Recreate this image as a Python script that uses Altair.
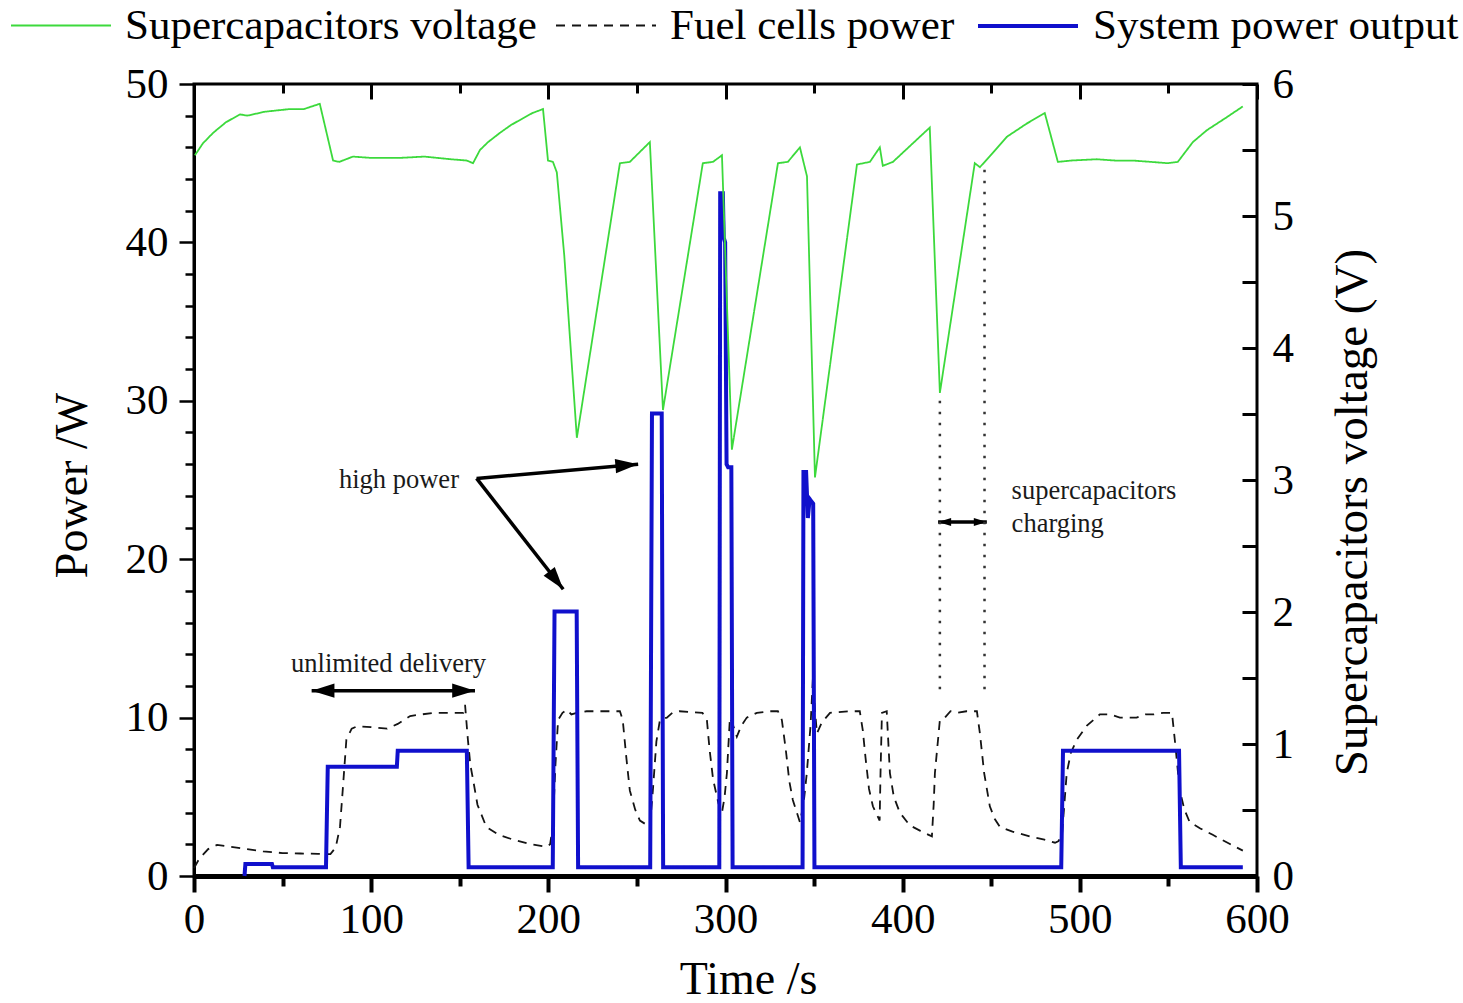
import math

import altair as alt
import pandas as pd

SERIF = "Liberation Serif"
W, H = 1063, 792
T_MAX, P_MAX, V_MAX = 600, 50, 6

# ---------------- measured series ----------------
# supercapacitor voltage (V) against time (s)
volt_t = [0.5, 5, 10.8, 18, 26, 30, 40, 54, 62, 71, 78.5, 82, 89.7, 100, 116, 130,
          145, 154, 157.5, 161.4, 166, 172.7, 179, 185.7, 191, 197, 199.8, 202.6,
          204.8, 209, 216.1, 240.4, 246, 257.3, 264.7, 287.2, 292.9, 298, 303.6, 329.6,
          335.2, 342, 346, 350.5, 374.2, 381.5, 387.1, 388.8, 394.5, 415.3, 421,
          440.7, 443.6, 451, 458.8, 470, 480.2, 487.6, 495, 509.5, 520, 530, 540,
          549.7, 555.3, 563.8, 571.7, 582, 592]
volt_v = [5.46, 5.55, 5.63, 5.71, 5.77, 5.76, 5.79, 5.81, 5.81, 5.85, 5.42, 5.41,
          5.45, 5.44, 5.44, 5.45, 5.43, 5.42, 5.40, 5.50, 5.56, 5.63, 5.69, 5.74,
          5.78, 5.81, 5.42, 5.41, 5.33, 4.70, 3.32, 5.40, 5.41, 5.56, 3.53, 5.40, 5.41,
          5.46, 3.23, 5.40, 5.41, 5.52, 5.30, 3.02, 5.39, 5.41, 5.52, 5.38, 5.41,
          5.67, 3.66, 5.40, 5.37, 5.48, 5.60, 5.70, 5.78, 5.41, 5.42, 5.43, 5.42,
          5.42, 5.41, 5.40, 5.41, 5.56, 5.65, 5.74, 5.83]

# fuel cell power (W) against time (s)
fc_t = [0, 3, 8, 13, 20, 30, 39, 50, 60, 70, 77, 80, 82.4, 84, 86, 89, 92, 100, 109,
        115, 122, 135, 152, 153, 154.6, 156, 157.5, 160, 165, 172, 180, 190, 199,
        201, 202.5, 204, 205.5, 208, 210.5, 213, 216, 221.6, 235, 240.4, 242, 244,
        246, 249, 251.7, 257.3, 259, 261, 263, 266.9, 270, 274, 287, 289.5, 291, 293,
        296, 298, 299.5, 300.8, 302.5, 304, 306.4, 309, 312, 317.7, 325, 329.6,
        331.8, 334, 336, 338, 342, 344, 345.9, 348, 349.3, 350.5, 351.6, 354.4, 359,
        370, 375.8, 377.5, 379, 381, 383.2, 387, 387.5, 388.3, 391, 392.8, 395,
        398.4, 404, 410, 416.5, 417.5, 418.2, 421, 423.8, 427, 430.6, 436, 441.9,
        443.6, 446, 449.2, 452, 454.9, 462, 471.8, 480, 486, 488, 490, 492.6, 495,
        498.3, 504, 511.3, 517, 522.6, 532, 537, 541.4, 547, 552, 553.6, 556.4, 559,
        562, 568, 575, 585, 592]
fc_p = [0.5, 1.1, 1.7, 1.96, 1.85, 1.7, 1.55, 1.45, 1.42, 1.4, 1.38, 1.8, 3.1, 5.5,
        8.6, 9.3, 9.45, 9.4, 9.3, 9.6, 10.1, 10.3, 10.3, 10.8, 8.6, 7.0, 6.1, 4.5,
        3.1, 2.6, 2.3, 2.0, 1.85, 2.0, 3.1, 7.0, 9.85, 10.3, 10.5, 10.2, 10.3, 10.4,
        10.4, 10.4, 9.85, 7.5, 5.4, 4.2, 3.5, 3.1, 5.4, 8.5, 9.85, 10.0, 10.3, 10.4,
        10.3, 9.85, 8.0, 6.1, 4.6, 4.0, 5.0, 6.5, 10.0, 9.6, 8.8, 9.5, 10.0, 10.3,
        10.4, 10.4, 9.85, 8.0, 6.0, 4.8, 3.4, 4.5, 6.5, 9.5, 12.4, 10.5, 9.0, 9.7,
        10.3, 10.4, 10.4, 9.2, 7.5, 5.5, 4.4, 3.5, 6.5, 10.3, 10.4, 6.5, 5.0, 4.0,
        3.2, 2.85, 2.5, 4.5, 6.5, 9.85, 10.0, 10.4, 10.3, 10.4, 10.4, 9.0, 6.5, 4.4,
        3.6, 3.1, 2.8, 2.5, 2.3, 2.1, 2.2, 2.7, 6.5, 7.8, 8.6, 9.5, 10.2, 10.2, 10.0,
        10.0, 10.2, 10.2, 10.3, 10.3, 8.6, 5.4, 4.2, 3.4, 3.0, 2.6, 2.0, 1.6]

# system power output (W) against time (s)
sys_t = [28.5, 29, 44, 44.5, 74.5, 75.5, 114.5, 115, 154, 155, 202.5, 203.5, 216,
         216.8, 257.5, 258.5, 264, 264.8, 296.5, 297, 298.5, 299, 299.8, 300.6,
         301.5, 303.3, 304, 343.5, 344, 345.5, 346.5, 347.5, 349.5, 350.2, 489.5,
         490.5, 556, 557, 592]
sys_p = [0, 0.75, 0.75, 0.55, 0.55, 6.9, 6.9, 7.9, 7.9, 0.55, 0.55, 16.7, 16.7,
         0.55, 0.55, 29.2, 29.2, 0.55, 0.55, 43.1, 43.1, 40.3, 40.0, 26.0, 25.8,
         25.8, 0.55, 0.55, 25.5, 25.5, 22.6, 23.8, 23.5, 0.55, 0.55, 7.9, 7.9,
         0.55, 0.55]

SERIES = ["Supercapacitors voltage", "Fuel cells power", "System power output"]

# ---------------- annotations ----------------
note_mid_text = ["high power", "unlimited delivery"]
note_mid_t = [115.7, 109.8]
note_mid_p = [25.0, 13.4]

note_left_text = ["supercapacitors", "charging"]
note_left_t = [461.5, 461.5]
note_left_p = [24.3, 22.2]

arrow_group = ["high power", "high power", "unlimited delivery", "supercapacitors charging"]
arrow_t0 = [159.5, 159.5, 66.4, 420.0]
arrow_p0 = [25.1, 25.1, 11.7, 22.35]
arrow_t1 = [250.7, 208.4, 158.6, 447.5]
arrow_p1 = [26.0, 18.1, 11.7, 22.35]
arrow_both = [False, False, True, True]

# dotted markers of the charging interval (voltage axis)
charge_t = [421.0, 446.2]
charge_v_top = [3.60, 5.35]
charge_v_bottom = [1.38, 1.38]

# ---------------- styles ----------------
COLORS = ["#3cd93c", "#141414", "#1010cc"]
DASHES = [[1, 0], [9, 7], [1, 0]]
WIDTHS = [1.8, 1.8, 4]
HEAD_PATH = "M0,0L-2,-0.62L-2,0.62Z"
HEAD_SIZE = {"supercapacitors charging": 170}
HEAD_SIZE_DEFAULT = 520

# ---------------- tables ----------------
volt_df = pd.DataFrame({"t": volt_t, "v": volt_v, "series": SERIES[0]})
fc_df = pd.DataFrame({"t": fc_t, "p": fc_p, "series": SERIES[1]})
sys_df = pd.DataFrame({"t": sys_t, "p": sys_p, "series": SERIES[2]})

arrows = pd.DataFrame({"group": arrow_group, "t0": arrow_t0, "p0": arrow_p0,
                       "t1": arrow_t1, "p1": arrow_p1, "both": arrow_both})


def screen_angle(t0, p0, t1, p1):
    dx = (t1 - t0) * W / T_MAX
    dy = -(p1 - p0) * H / P_MAX
    return math.degrees(math.atan2(dy, dx)) % 360


heads = []
for r in arrows.itertuples():
    ang = screen_angle(r.t0, r.p0, r.t1, r.p1)
    size = HEAD_SIZE.get(r.group, HEAD_SIZE_DEFAULT)
    heads.append({"t": r.t1, "p": r.p1, "angle": ang, "size": size})
    if r.both:
        heads.append({"t": r.t0, "p": r.p0, "angle": (ang + 180) % 360, "size": size})
heads_df = pd.DataFrame(heads)

mid_df = pd.DataFrame({"text": note_mid_text, "t": note_mid_t, "p": note_mid_p})
left_df = pd.DataFrame({"text": note_left_text, "t": note_left_t, "p": note_left_p})
charge_df = pd.DataFrame({"t": charge_t, "v_top": charge_v_top, "v_bottom": charge_v_bottom})

# ---------------- scales, axes, legend ----------------
t_scale = alt.Scale(domain=[0, T_MAX], nice=False, zero=False)
p_scale = alt.Scale(domain=[0, P_MAX], nice=False)
v_scale = alt.Scale(domain=[0, V_MAX], nice=False)

bottom_axis = alt.Axis(
    orient="bottom", title="Time /s", values=list(range(0, 601, 50)),
    labelExpr="datum.value % 100 === 0 ? datum.label : ''",
    tickSize={"condition": {"test": "datum.value % 100 === 0", "value": 16}, "value": 10},
    tickWidth=4, domainWidth=5, labelPadding=6, labelOverlap=False, labelFlush=False,
    titleX=554, titleY=117, titleAlign="center", titleBaseline="alphabetic", titleAngle=0,
)
top_ticks = alt.Axis(
    orient="bottom", offset=-H, values=list(range(0, 601, 50)), labels=False,
    title=None, domain=False,
    tickSize={"condition": {"test": "datum.value % 100 === 0", "value": 15}, "value": 9},
    tickWidth=3,
)
left_axis = alt.Axis(
    orient="left", title="Power /W", values=list(range(0, 51, 2)),
    labelExpr="datum.value % 10 === 0 ? datum.label : ''",
    tickSize={"condition": {"test": "datum.value % 10 === 0", "value": 15}, "value": 9},
    tickWidth=2.5, domainWidth=3, labelPadding=11, labelOverlap=False, labelFlush=False,
    titleX=-108, titleY=401, titleAngle=270, titleAlign="center", titleBaseline="alphabetic",
)
right_axis = alt.Axis(
    orient="right", title="Supercapacitors voltage (V)", values=list(range(0, 7)),
    ticks=False, tickSize=0, domain=False, labelPadding=15, labelOverlap=False,
    labelFlush=False, titleX=109, titleY=428, titleAngle=270, titleAlign="center",
    titleBaseline="alphabetic", titleFontSize=47,
)
right_ticks = alt.Axis(
    orient="left", offset=-W, values=[i / 2 for i in range(13)], labels=False,
    title=None, domain=False, tickSize=15, tickWidth=3,
)

legend = alt.Legend(
    title=None, orient="none", legendX=-184, legendY=-110, direction="horizontal",
    symbolType="stroke", symbolSize=10000, labelFont=SERIF, labelFontSize=43,
    labelColor="black", labelOffset=13, columnPadding=15, labelLimit=900, padding=0,
)
color_enc = alt.Color("series:N", scale=alt.Scale(domain=SERIES, range=COLORS), legend=legend)
dash_enc = alt.StrokeDash("series:N", scale=alt.Scale(domain=SERIES, range=DASHES), legend=legend)
width_enc = alt.StrokeWidth("series:N", scale=alt.Scale(type="ordinal", domain=SERIES, range=WIDTHS),
                            legend=legend)


def x_enc(axis, field="t"):
    return alt.X(f"{field}:Q", scale=t_scale, axis=axis)


# ---------------- power layers ----------------
fuel = alt.Chart(fc_df).mark_line().encode(
    x=x_enc(bottom_axis),
    y=alt.Y("p:Q", scale=p_scale, axis=left_axis),
    color=color_enc, strokeDash=dash_enc, strokeWidth=width_enc,
)
system = alt.Chart(sys_df).mark_line(strokeJoin="miter").encode(
    x=x_enc(top_ticks),
    y=alt.Y("p:Q", scale=p_scale, axis=None),
    color=color_enc, strokeDash=dash_enc, strokeWidth=width_enc,
)
notes_mid = alt.Chart(mid_df).mark_text(
    font=SERIF, fontSize=26.5, color="#1a1a1a", align="center", baseline="middle"
).encode(x=x_enc(None), y=alt.Y("p:Q", scale=p_scale, axis=None), text="text:N")
notes_left = alt.Chart(left_df).mark_text(
    font=SERIF, fontSize=26.5, color="#1a1a1a", align="left", baseline="middle"
).encode(x=x_enc(None), y=alt.Y("p:Q", scale=p_scale, axis=None), text="text:N")
shafts = alt.Chart(arrows).mark_rule(color="black", strokeWidth=3.5, strokeCap="butt").encode(
    x=x_enc(None, "t0"), x2="t1:Q",
    y=alt.Y("p0:Q", scale=p_scale, axis=None), y2="p1:Q",
)
arrowheads = alt.Chart(heads_df).mark_point(
    shape=HEAD_PATH, filled=True, color="black", opacity=1, strokeWidth=0
).encode(
    x=x_enc(None), y=alt.Y("p:Q", scale=p_scale, axis=None),
    angle=alt.Angle("angle:Q", scale=None),
    size=alt.Size("size:Q", scale=None, legend=None),
)

power_group = alt.layer(fuel, system, shafts, arrowheads, notes_mid, notes_left).resolve_axis(
    x="independent", y="independent"
)

# ---------------- voltage layers ----------------
charge_marks = alt.Chart(charge_df).mark_rule(
    color="#333333", strokeWidth=2.5, strokeDash=[2.5, 8.5]
).encode(
    x=x_enc(None),
    y=alt.Y("v_top:Q", scale=v_scale, axis=right_ticks), y2="v_bottom:Q",
)
voltage = alt.Chart(volt_df).mark_line().encode(
    x=x_enc(None),
    y=alt.Y("v:Q", scale=v_scale, axis=right_axis),
    color=color_enc, strokeDash=dash_enc, strokeWidth=width_enc,
)
volt_group = alt.layer(charge_marks, voltage).resolve_axis(y="independent")

chart = (
    alt.layer(power_group, volt_group)
    .resolve_scale(y="independent")
    .resolve_axis(x="independent")
    .properties(
        width=W, height=H,
        autosize=alt.AutoSizeParams(type="none"),
        padding={"left": 194, "top": 84, "right": 206, "bottom": 127},
        background="white",
    )
    .configure_view(stroke="black", strokeWidth=3)
    .configure_axis(
        labelFont=SERIF, titleFont=SERIF, labelFontSize=43, titleFontSize=46,
        titleFontWeight="normal", labelColor="black", titleColor="black",
        tickColor="black", domainColor="black", grid=False,
    )
)

chart.save("out.html", embed_options={"renderer": "svg", "actions": False})
